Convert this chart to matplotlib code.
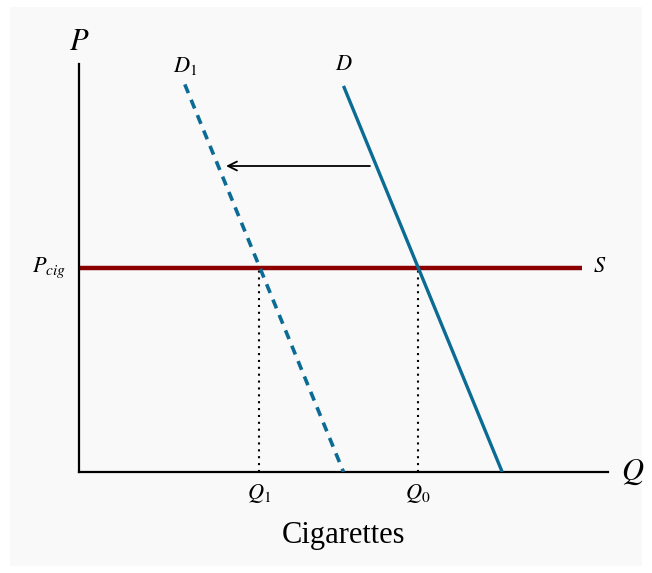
import numpy as np
import matplotlib
matplotlib.use("Agg")
import matplotlib.pyplot as plt
from matplotlib.patches import Rectangle

plt.rcParams["mathtext.fontset"] = "stix"
plt.rcParams["font.family"] = ["Liberation Serif", "DejaVu Serif"]

# demand curves (quantity, price)
d_q = [5.0, 8.0]
d_p = [7.57, 0.0]
d1_q = [2.0, 5.0]
d1_p = [7.6, 0.0]
# supply (horizontal at cigarette price)
s_q = [0.0, 9.5]
s_p = [4.0, 4.0]
# equilibrium quantities
q0 = 6.41
q1 = 3.41
# shift arrow
arrow_from = (5.5, 6.0)
arrow_to = (2.78, 6.0)

blue = "#0a6b94"
red = "#8b0000"

fig = plt.figure(figsize=(6.52, 5.73), dpi=100)
fig.patches.append(Rectangle((10 / 652, 7 / 573), 632 / 652, 559 / 573,
                             transform=fig.transFigure, facecolor="#f9f9f9",
                             edgecolor="none", zorder=-1))

ax = fig.add_axes([79 / 652, 101 / 573, 529 / 652, 408 / 573])
ax.set_facecolor("none")
ax.set_xlim(0, 10)
ax.set_ylim(0, 8)
for side in ["top", "right"]:
    ax.spines[side].set_visible(False)
for side in ["left", "bottom"]:
    ax.spines[side].set_linewidth(1.6)
ax.set_xticks([])
ax.set_yticks([])

ax.plot(s_q, s_p, color=red, lw=3.2, solid_capstyle="butt", zorder=2)
ax.plot(d_q, d_p, color=blue, lw=2.4, solid_capstyle="butt", zorder=3)
ax.plot(d1_q, d1_p, color=blue, lw=2.6, dashes=(2.6, 2.0), zorder=3)

ax.plot([q0, q0], [0, s_p[0]], color="black", lw=1.5, ls=(0, (1, 2.3)), zorder=1)
ax.plot([q1, q1], [0, s_p[0]], color="black", lw=1.5, ls=(0, (1, 2.3)), zorder=1)

ax.annotate("", xy=arrow_to, xytext=arrow_from,
            arrowprops=dict(arrowstyle="->", color="black", lw=1.3,
                            mutation_scale=16, shrinkA=0, shrinkB=0))

ax.text(0, 8.42, "$P$", fontsize=22, ha="center", va="center")
ax.text(10.25, 0, "$Q$", fontsize=22, ha="left", va="center")
ax.text(d1_q[0], 7.97, "$D_1$", fontsize=16, ha="center", va="center")
ax.text(d_q[0], 7.97, "$D$", fontsize=16, ha="center", va="center")
ax.text(9.85, 4.0, "$S$", fontsize=16, ha="center", va="center")
ax.text(-0.25, 4.0, "$P_{cig}$", fontsize=16, ha="right", va="center")
ax.text(q1, -0.42, "$Q_1$", fontsize=16, ha="center", va="center")
ax.text(q0, -0.42, "$Q_0$", fontsize=16, ha="center", va="center")
ax.text(5.0, -1.25, "Cigarettes", fontsize=22, ha="center", va="center")

fig.savefig("out.png", dpi=100)
